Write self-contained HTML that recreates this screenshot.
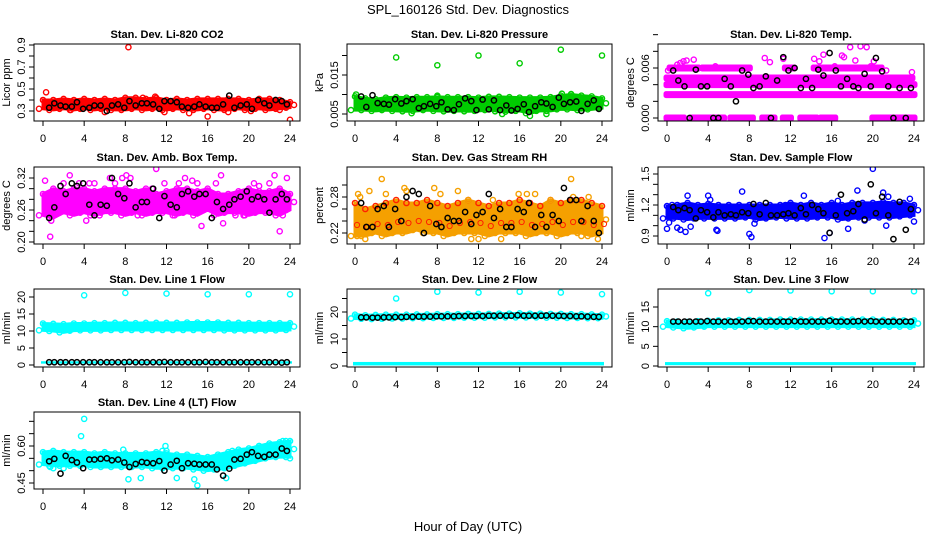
<!DOCTYPE html>
<html><head><meta charset="utf-8"><style>
body{margin:0;background:#fff;}
svg{display:block;font-family:"Liberation Sans",sans-serif;}
</style></head><body>
<svg id="chart" width="936" height="540" viewBox="0 0 936 540" xmlns="http://www.w3.org/2000/svg">
<rect x="0" y="0" width="936" height="540" fill="#fff"/>
<text x="468" y="14" text-anchor="middle" font-size="13">SPL_160126  Std. Dev. Diagnostics</text>
<text x="468" y="531" text-anchor="middle" font-size="13">Hour of Day (UTC)</text>
</svg>
<script>
const blackX=[0.6,1.1,1.7,2.2,2.8,3.3,3.9,4.5,5.0,5.6,6.2,6.7,7.3,7.9,8.4,9.0,9.6,10.1,10.7,11.3,11.8,12.4,13.0,13.5,14.1,14.7,15.2,15.8,16.4,16.9,17.5,18.1,18.6,19.2,19.8,20.3,20.9,21.5,22.0,22.6,23.2,23.7];
const xTicks=[0,4,8,12,16,20,24];
// CO2
const co2Lo=[0.32,0.31,0.32,0.31,0.32,0.31,0.32,0.31,0.31,0.32,0.31,0.32,0.31,0.32,0.31,0.31,0.32,0.31,0.31,0.32,0.31,0.32,0.31,0.32,0.33];
const co2Hi=[0.40,0.40,0.41,0.40,0.41,0.40,0.41,0.40,0.42,0.42,0.41,0.42,0.40,0.41,0.40,0.41,0.41,0.41,0.41,0.41,0.40,0.41,0.41,0.40,0.38];
const co2PtX=[0.3,8.3,24,14.2,16,10.9,9.7,18,0.2,2.7,6,11.8,20.2,23];
const co2PtY=[0.47,0.88,0.22,0.28,0.25,0.43,0.42,0.29,0.36,0.31,0.29,0.29,0.30,0.31];
const co2Black=[0.33,0.37,0.35,0.34,0.34,0.38,0.32,0.33,0.35,0.35,0.30,0.35,0.36,0.33,0.39,0.35,0.37,0.37,0.36,0.32,0.39,0.39,0.38,0.34,0.33,0.34,0.36,0.34,0.33,0.33,0.36,0.44,0.33,0.35,0.36,0.32,0.40,0.37,0.35,0.40,0.39,0.36];
// Pressure
const presLo=[.0060,.0060,.0058,.0060,.0058,.0057,.0058,.0060,.0058,.0057,.0058,.0057,.0058,.0060,.0057,.0056,.0058,.0052,.0058,.0058,.0062,.0062,.0060,.0062,.0065];
const presHi=[.0095,.0090,.0088,.0092,.0093,.0092,.0093,.0093,.0094,.0093,.0093,.0093,.0092,.0094,.0094,.0093,.0092,.0092,.0092,.0093,.0097,.0100,.0097,.0095,.0090];
const presPtX=[4,8,12,16,20,24,0.1,8,20.1,21,17,18.6,14.3,5.5];
const presPtY=[.0195,.0175,.020,.018,.0215,.020,.0100,.0097,.0102,.0101,.0045,.0050,.0050,.0052];
const presBlack=[.0095,.0068,.0098,.0078,.0076,.0074,.0088,.0077,.0083,.0088,.0065,.0070,.0076,.0070,.0080,.0062,.0060,.0075,.0090,.0083,.0060,.0087,.0062,.0085,.0060,.0072,.0059,.0063,.0075,.0055,.0070,.0080,.0077,.0068,.0092,.0076,.0080,.0082,.0058,.0076,.0085,.0063];
// Li-820 temp (discrete levels)
const tempSegLevel=[0,0,0,0,0,0,0,0,.0028,.004,.0048,.006,.006,.006,.006];
const tempSegStart=[0,2.4,6.2,9.3,11.3,13,15,20,0,0,0,0.3,3.5,11.5,14.3];
const tempSegEnd=[1.6,5.5,8.3,10.4,12,14.5,16.3,24,24,24,23.8,3,8,12.3,20.8];
const tempPtX=[1,1.3,1.6,1.9,2.6,4.7,9.5,10,11.3,14.3,14.8,15.2,17,17.2,17.8,18.3,18.8,19.4,19.8,20.1,23.8,16.3,21.3,0.1,6.8];
const tempPtY=[.0064,.0066,.0068,.0069,.007,.0062,.0072,.0067,.0071,.0071,.0068,.0076,.0075,.0073,.0085,.0069,.0086,.0085,.0062,.0068,.0055,.0062,.0057,.0057,.0040];
const tempBlack=[.0057,.0045,.0038,.0000,.0058,.0038,.0038,.0000,.0000,.0047,.0038,.0020,.0057,.0052,.0036,.0038,.0050,.0000,.0045,.0073,.0057,.0060,.0036,.0047,.0036,.0058,.0051,.0078,.0057,.0038,.0047,.0038,.0036,.0053,.0038,.0072,.0056,.0038,.0000,.0036,.0000,.0036];
// Amb box temp
const ambLo=[.25,.245,.255,.25,.255,.25,.255,.255,.25,.255,.25,.255,.255,.25,.255,.25,.26,.25,.255,.255,.25,.255,.255,.25,.26];
const ambHi=[.29,.30,.295,.30,.30,.295,.30,.30,.30,.295,.30,.29,.295,.30,.30,.295,.30,.29,.29,.295,.30,.295,.295,.30,.29];
const ambPtX=[0.2,0.7,0.8,1,2.6,3.5,4.2,4.5,5.5,6.5,7.7,8.1,8.5,10.6,11,11.8,13.2,13.8,14.5,15,15.4,17.3,17.5,18.7,19.5,20.5,21,22.5,23,23.3,23.7,0.5,9.2,12.8,16.8,2,5,7,19.5,22];
const ambPtY=[.315,.21,.24,.25,.325,.31,.24,.31,.25,.32,.32,.325,.32,.30,.337,.31,.31,.32,.315,.31,.23,.325,.235,.25,.25,.31,.305,.325,.22,.25,.32,.29,.25,.25,.31,.31,.31,.31,.25,.31];
const ambBlack=[.245,.265,.305,.29,.31,.305,.31,.27,.25,.27,.268,.32,.29,.282,.31,.265,.275,.275,.3,.245,.286,.27,.265,.29,.295,.285,.29,.29,.245,.275,.262,.27,.28,.285,.295,.28,.285,.28,.255,.28,.29,.28];
// Gas stream RH
const rhLo=[.215,.215,.22,.215,.22,.22,.225,.22,.22,.215,.22,.22,.22,.215,.22,.22,.22,.215,.22,.22,.215,.22,.22,.215,.22];
const rhHi=[.27,.26,.265,.27,.275,.27,.27,.275,.27,.265,.27,.275,.27,.265,.27,.27,.275,.27,.265,.275,.27,.275,.275,.27,.265];
const rhPtX=[0.3,1.4,2.6,4.8,5,7.7,10,11,13.4,14.2,15.9,16.7,17.5,21,21.2,22.7,23.6,0.2,0.5,1,3,8.3,11.3,12,19,14.8,22];
const rhPtY=[.285,.29,.31,.295,.29,.295,.29,.275,.275,.21,.285,.285,.285,.31,.28,.28,.21,.215,.28,.21,.285,.285,.21,.21,.275,.23,.215];
const rhBlack=[.27,.23,.23,.26,.265,.23,.26,.24,.28,.29,.285,.22,.265,.235,.23,.245,.24,.24,.255,.235,.25,.255,.285,.245,.26,.23,.23,.26,.255,.27,.23,.25,.23,.25,.24,.295,.275,.275,.24,.265,.24,.22];
// Sample flow
const sfLo=[1.07,1.07,1.06,1.07,1.07,1.07,1.07,1.07,1.08,1.06,1.07,1.08,1.07,1.07,1.07,1.08,1.08,1.06,1.07,1.08,1.08,1.08,1.08,1.09,1.1];
const sfHi=[1.19,1.20,1.22,1.20,1.21,1.2,1.2,1.2,1.2,1.2,1.2,1.2,1.22,1.2,1.22,1.2,1.22,1.2,1.22,1.22,1.22,1.23,1.22,1.22,1.2];
const sfPtX=[0,0.2,1,1.3,1.8,2,2.3,4,4.8,4.9,7.3,8,8.2,8.5,11.5,13.3,15.3,15.8,16.6,17.6,18.5,19.2,20,21,21.3,23.6,24,21.5,4.2,0.5];
const sfPtY=[.97,1.03,.98,.96,.94,1.29,.99,1.29,.96,.95,1.33,.92,.89,1.02,1.2,1.29,.88,.93,1.24,.97,1.34,1.05,1.55,1.32,1.0,1.26,1.04,1.28,1.25,1.2];
const sfBlack=[1.18,1.15,1.17,1.15,1.07,1.15,1.13,1.08,1.13,1.10,1.11,1.1,1.13,1.12,1.21,1.11,1.22,1.10,1.10,1.11,1.12,1.1,1.17,1.11,1.20,1.16,1.12,0.93,1.10,1.30,1.12,1.14,1.21,1.06,1.40,1.12,1.28,1.10,0.87,1.23,0.96,1.16];
// Line flows
const l1Lo=[10.2,10.0,9.6,10.1,10.2,10.2,10.2,10.3,10.3,10.3,10.3,10.3,10.3,10.3,10.3,10.3,10.3,10.3,10.2,10.2,10.2,10.2,10.2,10.2,10.3];
const l1Hi=[12.2,12.1,12.0,12.2,12.2,12.3,12.3,12.4,12.4,12.3,12.4,12.4,12.4,12.4,12.5,12.5,12.5,12.5,12.4,12.4,12.3,12.3,12.3,12.3,12.3];
const l1LowBand=[0.4,1.1];
const l1PtX=[4,8,12,16,20,24];
const l1PtY=[20.5,21.2,21,20.8,20.8,20.8];
const l1Black=[0.8,0.8,0.8,0.8,0.8,0.8,0.8,0.8,0.8,0.8,0.8,0.8,0.8,0.8,0.9,0.8,0.8,0.8,0.8,0.8,0.9,0.8,0.8,0.8,0.8,0.8,0.8,0.9,0.8,0.8,0.8,0.8,0.8,0.8,0.8,0.8,0.8,0.8,0.8,0.8,0.7,0.8];
const l2Lo=[17.6,17.5,17.4,17.5,17.6,17.6,17.7,17.7,17.8,17.8,17.8,17.9,17.9,17.9,18.0,18.0,18.0,18.0,18.0,17.9,17.9,17.8,17.8,17.7,17.7];
const l2Hi=[19.0,18.8,18.9,19.0,19.0,19.0,19.1,19.1,19.2,19.2,19.2,19.3,19.3,19.3,19.4,19.4,19.5,19.4,19.4,19.3,19.3,19.2,19.2,19.1,19.0];
const l2LowBand=[0.2,1.5];
const l2PtX=[4,8,12,16,20,24];
const l2PtY=[25,27.5,27.2,27.5,27.2,26.6];
const l2Black=[18.0,18.0,17.9,17.9,18.0,18.0,18.1,18.1,18.2,18.2,18.3,18.3,18.3,18.4,18.4,18.4,18.4,18.5,18.5,18.5,18.5,18.5,18.6,18.6,18.6,18.6,18.6,18.8,18.6,18.6,18.6,18.6,18.7,18.6,18.6,18.5,18.5,18.4,18.4,18.3,18.2,18.2];
const l3Lo=[10.0,9.8,9.6,9.8,10.0,10.0,10.0,10.0,10.0,10.0,10.0,10.0,10.0,10.0,10.0,10.0,10.0,10.0,10.0,10.0,10.0,10.0,10.0,10.0,10.0];
const l3Hi=[11.4,11.3,11.2,11.4,11.5,11.6,11.6,11.7,11.7,11.7,11.7,11.8,11.8,11.8,11.8,11.8,11.8,11.8,11.8,11.8,11.8,11.7,11.7,11.6,11.6];
const l3LowBand=[0.2,1.0];
const l3PtX=[4,8,12,16,20,24];
const l3PtY=[18.5,19.3,19.2,19.0,19.0,19.0];
const l3Black=[11.3,11.3,11.3,11.3,11.3,11.3,11.4,11.3,11.3,11.3,11.3,11.3,11.3,11.4,11.4,11.3,11.3,11.3,11.3,11.3,11.3,11.4,11.3,11.3,11.3,11.3,11.3,11.5,11.3,11.3,11.3,11.3,11.4,11.3,11.4,11.3,11.3,11.3,11.3,11.3,11.3,11.3];
const l4Lo=[.525,.52,.52,.52,.52,.515,.515,.515,.515,.515,.515,.51,.51,.51,.51,.505,.50,.505,.51,.52,.53,.54,.55,.555,.555];
const l4Hi=[.575,.58,.575,.575,.575,.57,.575,.57,.57,.57,.57,.575,.57,.565,.565,.56,.555,.565,.575,.585,.59,.60,.61,.615,.62];
const l4PtX=[4,3.7,1,8.3,9.5,11.9,12,13,14.7,15,17.8,18.4,19.9,21,23.3,23.6,24,11.6,0.7,2,7.8];
const l4PtY=[.71,.64,.51,.465,.47,.60,.58,.47,.465,.44,.47,.58,.75,.60,.62,.62,.55,.58,.515,.51,.585];
const l4Black=[.538,.548,.488,.56,.543,.533,.51,.545,.545,.548,.55,.542,.545,.533,.515,.527,.535,.532,.53,.539,.50,.525,.54,.51,.53,.528,.525,.525,.525,.505,.48,.508,.545,.548,.565,.575,.56,.556,.565,.565,.59,.58];

const cols=[{bl:34,br:300,x0:43,x24:290},{bl:347,br:612,x0:355,x24:602},{bl:658,br:924,x0:667,x24:914}];
const rows=[{bt:44,bb:121},{bt:167,bb:244},{bt:289,bb:367},{bt:412,bb:489}];
const panels=[
 {name:'co2',title:'Stan. Dev. Li-820 CO2',ylab:'Licor ppm',c:0,r:0,v0:0.3,p0:111,v1:0.9,p1:45,ticks:[0.3,0.4,0.5,0.6,0.7,0.8,0.9],labs:{'0.3':'0.3','0.5':'0.5','0.7':'0.7','0.9':'0.9'},col:'#ff0000',lo:co2Lo,hi:co2Hi,px:co2PtX,py:co2PtY,bk:co2Black},
 {name:'pressure',title:'Stan. Dev. Li-820 Pressure',ylab:'kPa',c:1,r:0,v0:0.005,p0:114,v1:0.015,p1:75,ticks:[0.005,0.010,0.015,0.020],labs:{'0.005':'0.005','0.015':'0.015'},col:'#00cc00',lo:presLo,hi:presHi,px:presPtX,py:presPtY,bk:presBlack},
 {name:'li820-temp',title:'Stan. Dev. Li-820 Temp.',ylab:'degrees C',c:2,r:0,v0:0,p0:118,v1:0.006,p1:68,ticks:[0,0.002,0.004,0.006,0.008,0.010],labs:{'0':'0.000','0.006':'0.006'},col:'#ff00ff',seg:true,px:tempPtX,py:tempPtY,bk:tempBlack},
 {name:'amb-box-temp',title:'Stan. Dev. Amb. Box Temp.',ylab:'degrees C',c:0,r:1,v0:0.20,p0:242,v1:0.32,p1:178,ticks:[0.20,0.22,0.24,0.26,0.28,0.30,0.32],labs:{'0.2':'0.20','0.26':'0.26','0.32':'0.32'},col:'#ff00ff',lo:ambLo,hi:ambHi,px:ambPtX,py:ambPtY,bk:ambBlack},
 {name:'gas-rh',title:'Stan. Dev. Gas Stream RH',ylab:'percent',c:1,r:1,v0:0.22,p0:233,v1:0.28,p1:197,ticks:[0.22,0.24,0.26,0.28,0.30],labs:{'0.22':'0.22','0.28':'0.28'},col:'#f5a000',col2:'#ff2000',lo:rhLo,hi:rhHi,px:rhPtX,py:rhPtY,bk:rhBlack},
 {name:'sample-flow',title:'Stan. Dev. Sample Flow',ylab:'ml/min',c:2,r:1,v0:0.9,p0:236,v1:1.5,p1:174,ticks:[0.9,1.0,1.1,1.2,1.3,1.4,1.5],labs:{'0.9':'0.9','1.2':'1.2','1.5':'1.5'},col:'#0000ff',lo:sfLo,hi:sfHi,px:sfPtX,py:sfPtY,bk:sfBlack},
 {name:'line1-flow',title:'Stan. Dev. Line 1 Flow',ylab:'ml/min',c:0,r:2,v0:0,p0:365,v1:20,p1:297,ticks:[0,5,10,15,20],labs:{'0':'0','5':'5','10':'10','15':'15','20':'20'},col:'#00ffff',lo:l1Lo,hi:l1Hi,low:l1LowBand,px:l1PtX,py:l1PtY,bk:l1Black},
 {name:'line2-flow',title:'Stan. Dev. Line 2 Flow',ylab:'ml/min',c:1,r:2,v0:0,p0:366,v1:20,p1:312,ticks:[0,5,10,15,20,25],labs:{'0':'0','10':'10','20':'20'},col:'#00ffff',lo:l2Lo,hi:l2Hi,low:l2LowBand,px:l2PtX,py:l2PtY,bk:l2Black},
 {name:'line3-flow',title:'Stan. Dev. Line 3 Flow',ylab:'ml/min',c:2,r:2,v0:0,p0:366,v1:15,p1:307,ticks:[0,5,10,15],labs:{'0':'0','5':'5','10':'10','15':'15'},col:'#00ffff',lo:l3Lo,hi:l3Hi,low:l3LowBand,px:l3PtX,py:l3PtY,bk:l3Black},
 {name:'line4-flow',title:'Stan. Dev. Line 4 (LT) Flow',ylab:'ml/min',c:0,r:3,v0:0.45,p0:483,v1:0.60,p1:446,ticks:[0.45,0.50,0.55,0.60,0.65,0.70],labs:{'0.45':'0.45','0.6':'0.60'},col:'#00ffff',lo:l4Lo,hi:l4Hi,px:l4PtX,py:l4PtY,bk:l4Black}
];
const svg=document.getElementById('chart');
const NS='http://www.w3.org/2000/svg';
function mk(tag,attrs,parent){const e=document.createElementNS(NS,tag);for(const k in attrs)e.setAttribute(k,attrs[k]);parent.appendChild(e);return e;}
panels.forEach(p=>{
 const C=cols[p.c],R=rows[p.r];
 const xs=h=>C.x0+(C.x24-C.x0)*h/24;
 const ys=v=>p.p0+(p.p1-p.p0)*(v-p.v0)/(p.v1-p.v0);
 const g=mk('g',{},svg);
 
 
 const clip='clip-'+p.name;
 const cp=mk('clipPath',{id:clip},g);mk('rect',{x:C.bl,y:R.bt,width:C.br-C.bl,height:R.bb-R.bt},cp);
 const plot=mk('g',{'clip-path':'url(#'+clip+')'},g);
 
 
 const hours=[];for(let i=0;i<25;i++)hours.push(i);
 if(p.lo){
  let d='M'+hours.map(i=>xs(i)+','+ys(p.hi[i])).join('L')+'L'+hours.slice().reverse().map(i=>xs(i)+','+ys(p.lo[i])).join('L')+'Z';
  const band=mk('path',{d:d,fill:p.col,stroke:p.col,'stroke-width':3},plot);
  
  
  hours.forEach(i=>{
   [p.lo[i],p.hi[i],(p.lo[i]+p.hi[i])/2].forEach((v,k)=>{
    const c=mk('circle',{cx:xs(i)+(k-1)*4,cy:ys(v),r:2.6,fill:'none',stroke:(p.col2&&k==1)?p.col2:p.col,'stroke-width':1.4},plot);
    
    
   });
  });
  if(p.col2){
   hours.forEach(i=>{const c=mk('circle',{cx:xs(i)+2,cy:ys((p.lo[i]*2+p.hi[i])/3),r:2.6,fill:'none',stroke:p.col2,'stroke-width':1},plot);
    
    });
  }
 }
 if(p.low){
  const r=mk('rect',{x:xs(0)-2,y:ys(p.low[1]),width:xs(24)-xs(0)+4,height:ys(p.low[0])-ys(p.low[1]),fill:p.col},plot);
  
  
 }
 if(p.seg){
  tempSegLevel.forEach((lv,i)=>{
   const r=mk('rect',{x:xs(tempSegStart[i])-3,y:ys(lv)-3,width:xs(tempSegEnd[i])-xs(tempSegStart[i])+6,height:6,fill:p.col,stroke:p.col,'stroke-width':1,rx:2},plot);
   
   
  });
 }
 p.px.forEach((x,i)=>{
  const c=mk('circle',{cx:xs(x),cy:ys(p.py[i]),r:2.6,fill:'none',stroke:p.col,'stroke-width':1.4},plot);
  
  
 });
 p.bk.forEach((v,i)=>{
  const c=mk('circle',{cx:xs(blackX[i]),cy:ys(v),r:2.6,fill:'none',stroke:'#000','stroke-width':1.5},plot);
  
  
 });
 const box=mk('rect',{x:C.bl,y:R.bt,width:C.br-C.bl,height:R.bb-R.bt,fill:'none',stroke:'#000','stroke-width':1},g);
 
 
 const t=mk('text',{x:(C.bl+C.br)/2,y:R.bt-6,'text-anchor':'middle','font-size':11,'font-weight':'bold'},g);t.textContent=p.title;
 
 
 xTicks.forEach(h=>{
  mk('line',{x1:xs(h),x2:xs(h),y1:R.bb,y2:R.bb+5,stroke:'#000'},g);
  const l=mk('text',{x:xs(h),y:R.bb+21,'text-anchor':'middle','font-size':11},g);l.textContent=h;
  
  
 });
 p.ticks.forEach(v=>{
  const y=ys(v);
  mk('line',{x1:C.bl-5,x2:C.bl,y1:y,y2:y,stroke:'#000'},g);
  const key=String(+v.toFixed(4));
  if(p.labs[key]){
   const l=mk('text',{x:0,y:0,'text-anchor':'middle','font-size':11,transform:'translate('+(C.bl-9)+','+y+') rotate(-90)'},g);l.textContent=p.labs[key];
   
   
  }
 });
 const yl=mk('text',{x:0,y:0,'text-anchor':'middle','font-size':11,transform:'translate('+(C.bl-24)+','+((R.bt+R.bb)/2)+') rotate(-90)'},g);yl.textContent=p.ylab;
 
 
});
</script>
</body></html>
